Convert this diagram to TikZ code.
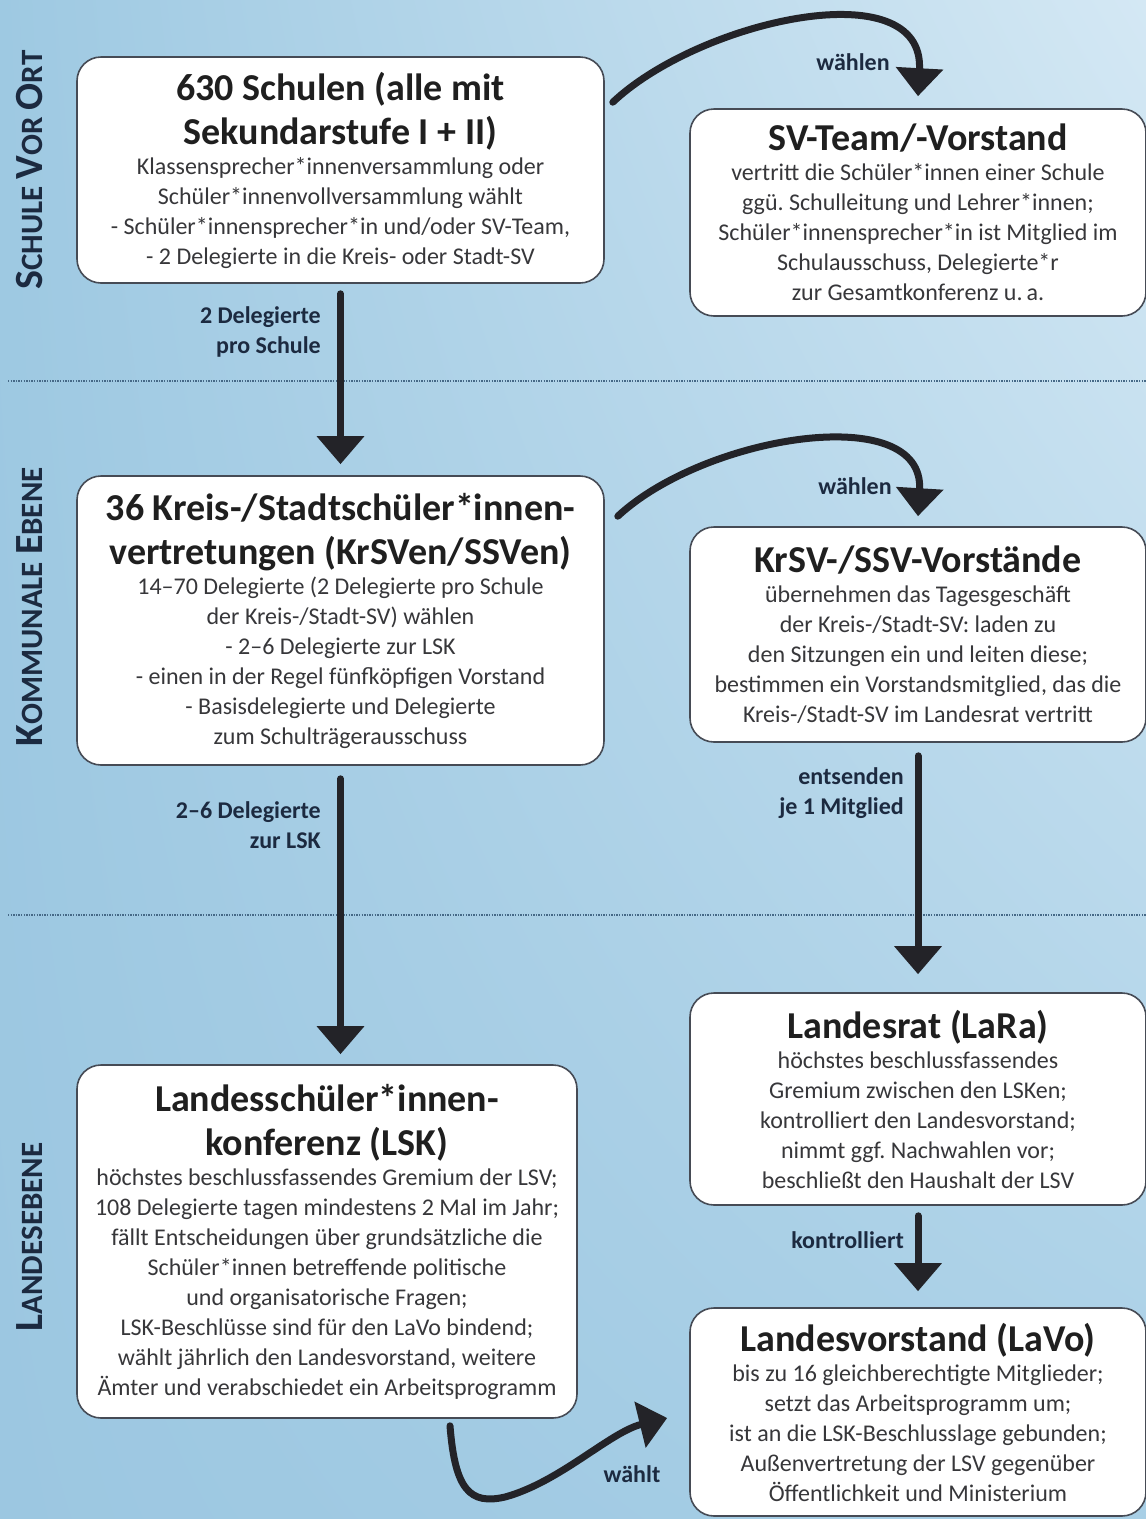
\documentclass[tikz,border=0pt]{standalone}
\usepackage{fontspec}
\setmainfont{Carlito}
\usetikzlibrary{arrows.meta,calc,shadings}
\definecolor{navy}{RGB}{28,42,64}
\definecolor{boxline}{RGB}{70,75,85}
\definecolor{arr}{RGB}{35,35,40}
\definecolor{bgA}{RGB}{158,201,226}
\definecolor{bgB}{RGB}{212,232,244}
\definecolor{bgC}{RGB}{156,199,225}
\definecolor{bgD}{RGB}{168,207,230}
\definecolor{sepc}{RGB}{70,105,135}
\definecolor{bodyc}{RGB}{55,55,58}
\newcommand\nsp{\spaceskip=\fontdimen2\font\relax\xspaceskip=\fontdimen2\font\relax}
\newcommand\ttl{\fontsize{38}{44}\selectfont\bfseries\color{black!88}\nsp}
\newcommand\bdy{\fontsize{24}{30}\selectfont}
\newcommand\bigc{\fontsize{40}{40}\selectfont}
\newcommand\smc{\fontsize{31}{31}\selectfont}
\begin{document}
\begin{tikzpicture}[x=1pt,y=-1pt,
 box/.style={draw=boxline, line width=1.6pt, fill=white, rounded corners=24pt, align=center, inner sep=0pt, text=bodyc, font=\bdy},
 arrline/.style={draw=arr, line width=7pt, line cap=round, -{Triangle[width=46pt,length=28pt]}},
 lbl/.style={font=\fontsize{24}{30}\selectfont\bfseries, text=navy, align=right, inner sep=0pt},
 side/.style={font=\bfseries, text=navy, rotate=90, inner sep=0pt},
 sepline/.style={draw=sepc, line width=2.2pt, dash pattern=on 1.4pt off 1.2pt}]
\useasboundingbox (0,0) rectangle (1146,1519);
\shade[upper left=bgA, upper right=bgB, lower left=bgC, lower right=bgD] (0,0) rectangle (1146,1519);
\clip (0,0) rectangle (1146,1519);
% separators
\draw[sepline] (8,381) -- (1146,381);
\draw[sepline] (8,915) -- (1146,915);
% level labels
\node[side] (lev1) at (30,170) {\bigc S\smc CHULE \bigc V\smc OR \bigc O\smc RT};
\node[side] (lev2) at (30,607) {\bigc K\smc OMMUNALE \bigc E\smc BENE};
\node[side] (lev3) at (30,1237) {\bigc L\smc ANDESEBENE};
% boxes
\node[box, minimum width=527pt, minimum height=226pt, text width=515pt] (schulen) at (340.5,170)
 {{\ttl 630 Schulen (alle mit\\Sekundarstufe I + II)\par}\nsp Klassensprecher*innenversammlung oder\\Schüler*innenvollversammlung wählt\\- Schüler*innensprecher*in und/oder SV-Team,\\- 2 Delegierte in die Kreis- oder Stadt-SV};
\node[box, minimum width=456pt, minimum height=207pt, text width=444pt] (svteam) at (918,212.5)
 {{\ttl SV-Team/-Vorstand\par}\nsp vertritt die Schüler*innen einer Schule\\ggü. Schulleitung und Lehrer*innen;\\Schüler*innensprecher*in ist Mitglied im\\Schulausschuss, Delegierte*r\\zur Gesamtkonferenz u.\,a.};
\node[box, minimum width=527pt, minimum height=289pt, text width=515pt] (kreis) at (340.5,620.5)
 {{\ttl 36 Kreis-/Stadtschüler*innen-\\vertretungen (KrSVen/SSVen)\par}\nsp 14–70 Delegierte (2 Delegierte pro Schule\\der Kreis-/Stadt-SV) wählen\\- 2–6 Delegierte zur LSK\\- einen in der Regel fünfköpfigen Vorstand\\- Basisdelegierte und Delegierte\\zum Schulträgerausschuss};
\node[box, minimum width=456pt, minimum height=215pt, text width=444pt] (krsv) at (918,634.5)
 {{\ttl KrSV-/SSV-Vorstände\par}\nsp übernehmen das Tagesgeschäft\\der Kreis-/Stadt-SV: laden zu\\den Sitzungen ein und leiten diese;\\bestimmen ein Vorstandsmitglied, das die\\Kreis-/Stadt-SV im Landesrat vertritt};
\node[box, minimum width=500pt, minimum height=353pt, text width=492pt] (lsk) at (327,1241.5)
 {{\ttl Landesschüler*innen-\\konferenz (LSK)\par}\nsp höchstes beschlussfassendes Gremium der LSV;\\108 Delegierte tagen mindestens 2 Mal im Jahr;\\fällt Entscheidungen über grundsätzliche die\\Schüler*innen betreffende politische\\und organisatorische Fragen;\\LSK-Beschlüsse sind für den LaVo bindend;\\wählt jährlich den Landesvorstand, weitere\\Ämter und verabschiedet ein Arbeitsprogramm};
\node[box, minimum width=456pt, minimum height=212pt, text width=444pt] (lara) at (918,1099)
 {{\ttl Landesrat (LaRa)\par}\nsp höchstes beschlussfassendes\\Gremium zwischen den LSKen;\\kontrolliert den Landesvorstand;\\nimmt ggf. Nachwahlen vor;\\beschließt den Haushalt der LSV};
\node[box, minimum width=456pt, minimum height=208pt, text width=444pt] (lavo) at (918,1412)
 {{\ttl Landesvorstand (LaVo)\par}\nsp bis zu 16 gleichberechtigte Mitglieder;\\setzt das Arbeitsprogramm um;\\ist an die LSK-Beschlusslage gebunden;\\Außenvertretung der LSV gegenüber\\Öffentlichkeit und Ministerium};
% connectors
\draw[arrline] ($(schulen.north east)+(8,46)$) .. controls (700,20) and (925,-30) .. ($(svteam.north)+(0,-12)$);
\node[lbl] (w1) at (853,62) {wählen};
\draw[arrline] ($(schulen.south)+(0,10)$) -- ($(kreis.north)+(0,-11)$);
\node[lbl, anchor=east] (l2) at (321,332) {2 Delegierte\\pro Schule};
\draw[arrline] ($(kreis.north east)+(13,41)$) .. controls (705,435) and (925,400) .. ($(krsv.north)+(0,-10)$);
\node[lbl] (w2) at (855,486) {wählen};
\coordinate (a4e) at (kreis.south |- lsk.north);
\draw[arrline] ($(kreis.south)+(0,13)$) -- ($(a4e)+(0,-10)$);
\node[lbl, anchor=east] (l4) at (321,825) {2–6 Delegierte\\zur LSK};
\draw[arrline] ($(krsv.south)+(0,13)$) -- ($(lara.north)+(0,-18)$);
\node[lbl, anchor=east] (l5) at (904,793) {entsenden\\je 1 Mitglied};
\draw[arrline] ($(lara.south)+(0,10)$) -- ($(lavo.north)+(0,-16)$);
\node[lbl, anchor=east] (l6) at (904,1240) {kontrolliert};
\coordinate (a7m) at (505,1497);
\draw[arrline] ($(lsk.south)+(123,7)$) .. controls (455,1490) and (470,1505) .. (a7m) .. controls (560,1482) and (610,1432) .. ($(lavo.west)+(-22,6)$);
\node[lbl] (w3) at (632,1474) {wählt};
\end{tikzpicture}
\end{document}
